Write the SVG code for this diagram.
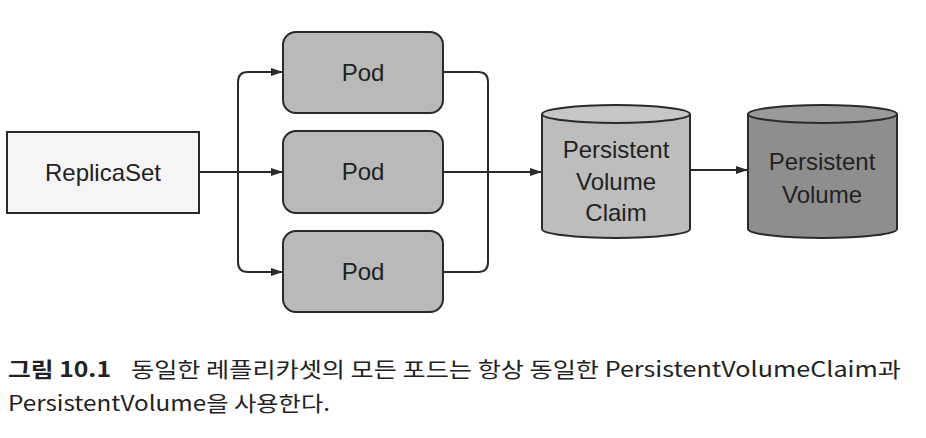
<svg xmlns="http://www.w3.org/2000/svg" width="926" height="438" viewBox="0 0 926 438">
<style>
.lbl{font-family:"Liberation Sans",Arial,sans-serif;font-size:24px;fill:#222;text-anchor:middle}
.cap{font-family:"Noto Sans CJK KR","Liberation Sans",sans-serif;font-size:21px;fill:#222}
.pod{fill:#b9b9b9;stroke:#2a2a2a;stroke-width:2}
.line{fill:none;stroke:#2a2a2a;stroke-width:2}
</style>
<defs>
<marker id="arr" viewBox="0 0 12 8" refX="12" refY="4" markerWidth="12" markerHeight="8" markerUnits="userSpaceOnUse" orient="auto">
<path d="M0,0 L12,4 L0,8 z" fill="#2a2a2a"/>
</marker>
</defs>
<rect width="926" height="438" fill="#fff"/>
<g id="connectors">
<path class="line" d="M199,172 H283" marker-end="url(#arr)"/>
<path class="line" d="M283,72 H248 Q238,72 238,82 V262 Q238,272 248,272 H283" marker-end="url(#arr)"/>
<path class="line" d="M248,72 H283" marker-end="url(#arr)"/>
<path class="line" d="M443,72 H478 Q488,72 488,82 V262 Q488,272 478,272 H443"/>
<path class="line" d="M443,172 H542" marker-end="url(#arr)"/>
<path class="line" d="M690,170 H748" marker-end="url(#arr)"/>
</g>
<g id="replicaset">
<rect x="7" y="132" width="192" height="81" fill="#f5f5f5" stroke="#2a2a2a" stroke-width="2"/>
<text class="lbl" x="103" y="181">ReplicaSet</text>
</g>
<g id="pod1">
<rect class="pod" x="283" y="32" width="160" height="81" rx="13"/>
<text class="lbl" x="363" y="81">Pod</text>
</g>
<g id="pod2">
<rect class="pod" x="283" y="131" width="160" height="82" rx="13"/>
<text class="lbl" x="363" y="180">Pod</text>
</g>
<g id="pod3">
<rect class="pod" x="283" y="231" width="160" height="81" rx="13"/>
<text class="lbl" x="363" y="280">Pod</text>
</g>
<g id="pvc">
<path d="M542,114 V229 A74,9 0 0 0 690,229 V114" fill="#bdbdbd" stroke="#2a2a2a" stroke-width="2"/>
<ellipse cx="616" cy="114" rx="74" ry="9" fill="#c6c6c6" stroke="#2a2a2a" stroke-width="2"/>
<text class="lbl" x="616" y="158">Persistent</text>
<text class="lbl" x="616" y="190">Volume</text>
<text class="lbl" x="616" y="221">Claim</text>
</g>
<g id="pv">
<path d="M748,114 V229 A74.5,9 0 0 0 897,229 V114" fill="#8e8e8e" stroke="#2a2a2a" stroke-width="2"/>
<ellipse cx="822.5" cy="114" rx="74.5" ry="9" fill="#9a9a9a" stroke="#2a2a2a" stroke-width="2"/>
<text class="lbl" x="822" y="170">Persistent</text>
<text class="lbl" x="822" y="203">Volume</text>
</g>
<g id="caption">
<text class="cap" x="8" y="377" font-weight="bold" textLength="103" lengthAdjust="spacingAndGlyphs">그림 10.1</text>
<text class="cap" x="131" y="377" textLength="770" lengthAdjust="spacingAndGlyphs">동일한 레플리카셋의 모든 포드는 항상 동일한 PersistentVolumeClaim과</text>
<text class="cap" x="8" y="411" textLength="322" lengthAdjust="spacingAndGlyphs">PersistentVolume을 사용한다.</text>
</g>
</svg>
